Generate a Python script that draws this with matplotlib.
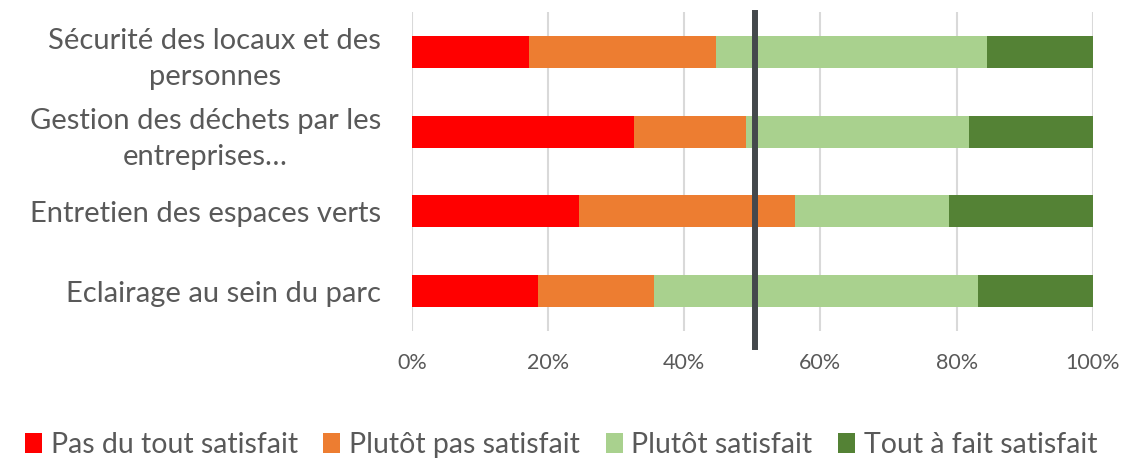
import matplotlib
matplotlib.use("Agg")
import matplotlib.pyplot as plt
import numpy as np
from matplotlib.ticker import PercentFormatter

# data (percent of answers), top category first
categories = ["Sécurité des locaux et des\npersonnes",
              "Gestion des déchets par les\nentreprises…",
              "Entretien des espaces verts",
              "Eclairage au sein du parc"]
series = ["Pas du tout satisfait", "Plutôt pas satisfait",
          "Plutôt satisfait", "Tout à fait satisfait"]
pas_du_tout = [17.2, 32.7, 24.6, 18.6]
plutot_pas = [27.5, 16.4, 31.6, 17.0]
plutot = [39.8, 32.7, 22.7, 47.5]
tout_a_fait = [15.5, 18.2, 21.1, 16.9]
xticks = [0, 20, 40, 60, 80, 100]
reference_line = 50.4

colors = ["#FF0000", "#ED7D31", "#A9D18E", "#548235"]
text_col = "#595959"

plt.rcParams['font.family'] = ['Lato', 'DejaVu Sans']

fig = plt.figure(figsize=(11.22, 4.58), dpi=100)
ax = fig.add_axes([0.367, 0.277, 0.607, 0.697])

y = np.arange(len(categories))
left = np.zeros(len(categories))
for vals, name, c in zip([pas_du_tout, plutot_pas, plutot, tout_a_fait], series, colors):
    ax.barh(y, vals, left=left, height=0.4, color=c, label=name, zorder=2)
    left += np.array(vals)

ax.set_ylim(len(categories) - 0.5, -0.5)
ax.set_xlim(0, 100)
ax.set_xticks(xticks)
ax.xaxis.set_major_formatter(PercentFormatter(decimals=0))
ax.set_yticks(y)
ax.set_yticklabels(categories, multialignment='center', linespacing=1.45)
ax.tick_params(axis='y', length=0, pad=22, labelsize=21, labelcolor=text_col)
ax.tick_params(axis='x', length=0, pad=16, labelsize=15.5, labelcolor=text_col)
ax.grid(axis='x', color="#D9D9D9", linewidth=1.5, zorder=0)
for s in ax.spines.values():
    s.set_visible(False)

# 50% marker line
ax.plot([reference_line, reference_line], [-0.05, 0.997], color="#44484C",
        linewidth=4.3, transform=ax.get_xaxis_transform(), clip_on=False, zorder=5)

leg = fig.legend(loc='lower center', ncol=4, frameon=False, fontsize=20.5,
                 bbox_to_anchor=(0.5, -0.055), handlelength=0.6, handleheight=0.7,
                 handletextpad=0.3, columnspacing=0.9)
for t in leg.get_texts():
    t.set_color(text_col)

fig.savefig("out.png", dpi=100)
